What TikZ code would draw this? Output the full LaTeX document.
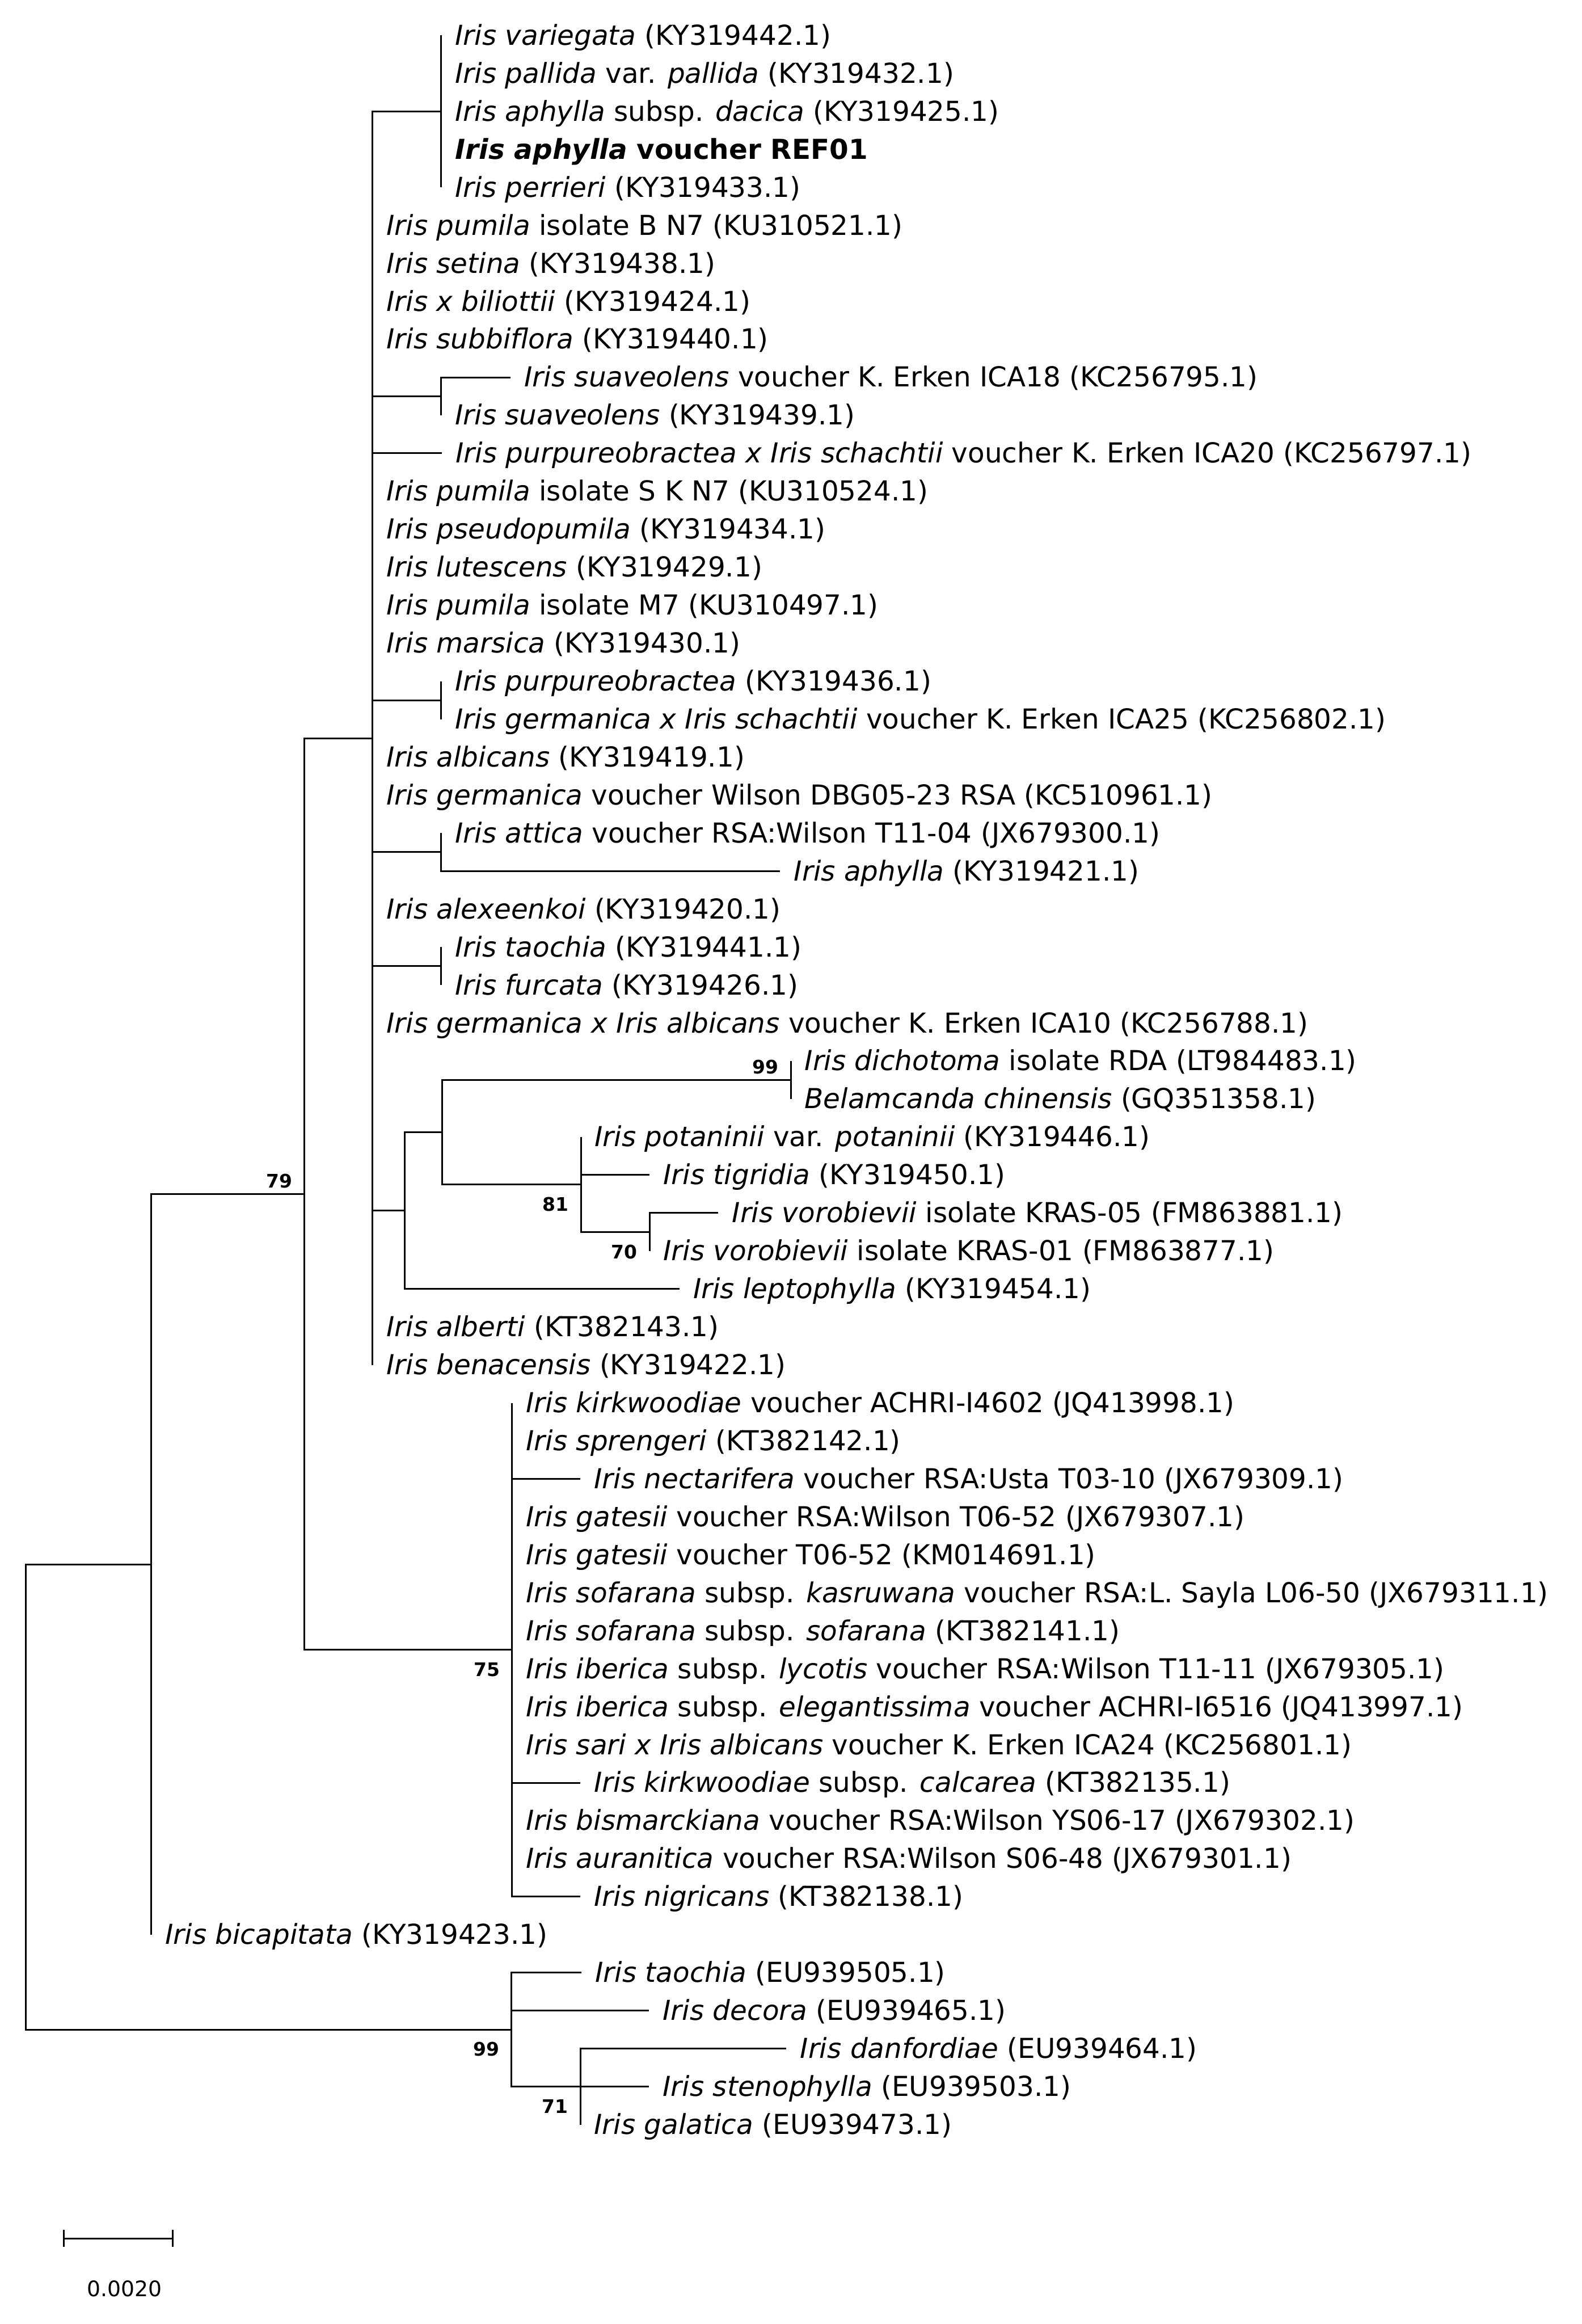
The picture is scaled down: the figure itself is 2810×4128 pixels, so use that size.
\documentclass[tikz,border=0pt]{standalone}
\usepackage{fontspec}
\setmainfont{DejaVu Sans}
\newcommand{\leaf}[3]{\coordinate (t#1) at ({#2},{63+(#1-1)*67.47});
  \node[leaf] (l#1) at (t#1) {#3};}
\begin{document}
\begin{tikzpicture}[x=0.25pt,y=-0.25pt,
  branch/.style={draw=black,line width=0.75pt},
  leaf/.style={anchor=base west,inner sep=0pt,xshift=6pt,yshift=-4.25pt,font=\fontsize{12.2}{14}\selectfont},
  bsbelow/.style={anchor=east,inner sep=0pt,xshift=-5.25pt,yshift=-8.75pt,font=\bfseries\fontsize{8.3}{9}\selectfont},
  bsabove/.style={anchor=east,inner sep=0pt,xshift=-5.25pt,yshift=5.75pt,font=\bfseries\fontsize{8.3}{9}\selectfont}]
\useasboundingbox (0,0) rectangle (2810,4128);

% internal nodes
\coordinate (root) at (46,3191.92);
\coordinate (n102) at (269,2778.67);
\coordinate (n79) at (541,2120.84);
\coordinate (n250) at (662,1311.20);
\coordinate (n75) at (910,2930.48);
\coordinate (a1) at (784,197.94);
\coordinate (a2) at (784,703.97);
\coordinate (a3) at (784,1243.73);
\coordinate (a4) at (784,1513.61);
\coordinate (a5) at (784,1716.02);
\coordinate (n273) at (719,2150.36);
\coordinate (n297) at (786,2011.20);
\coordinate (n99d) at (1405,1918.43);
\coordinate (n81) at (1032,2103.97);
\coordinate (n70) at (1154,2188.31);
\coordinate (n99b) at (909,3605.18);
\coordinate (n71) at (1031,3706.38);

% leaves
\leaf{1}{784}{\textit{Iris variegata} (KY319442.1)}
\leaf{2}{784}{\textit{Iris pallida} var. \textit{pallida} (KY319432.1)}
\leaf{3}{784}{\textit{Iris aphylla} subsp. \textit{dacica} (KY319425.1)}
\leaf{4}{784}{\textbf{\textit{Iris aphylla} voucher REF01}}
\leaf{5}{784}{\textit{Iris perrieri} (KY319433.1)}
\leaf{6}{662}{\textit{Iris pumila} isolate B N7 (KU310521.1)}
\leaf{7}{662}{\textit{Iris setina} (KY319438.1)}
\leaf{8}{662}{\textit{Iris x biliottii} (KY319424.1)}
\leaf{9}{662}{\textit{Iris subbiflora} (KY319440.1)}
\leaf{10}{907}{\textit{Iris suaveolens} voucher K. Erken ICA18 (KC256795.1)}
\leaf{11}{784}{\textit{Iris suaveolens} (KY319439.1)}
\leaf{12}{785}{\textit{Iris purpureobractea x Iris schachtii} voucher K. Erken ICA20 (KC256797.1)}
\leaf{13}{662}{\textit{Iris pumila} isolate S K N7 (KU310524.1)}
\leaf{14}{662}{\textit{Iris pseudopumila} (KY319434.1)}
\leaf{15}{662}{\textit{Iris lutescens} (KY319429.1)}
\leaf{16}{662}{\textit{Iris pumila} isolate M7 (KU310497.1)}
\leaf{17}{662}{\textit{Iris marsica} (KY319430.1)}
\leaf{18}{784}{\textit{Iris purpureobractea} (KY319436.1)}
\leaf{19}{784}{\textit{Iris germanica x Iris schachtii} voucher K. Erken ICA25 (KC256802.1)}
\leaf{20}{662}{\textit{Iris albicans} (KY319419.1)}
\leaf{21}{662}{\textit{Iris germanica} voucher Wilson DBG05-23 RSA (KC510961.1)}
\leaf{22}{784}{\textit{Iris attica} voucher RSA:Wilson T11-04 (JX679300.1)}
\leaf{23}{1386}{\textit{Iris aphylla} (KY319421.1)}
\leaf{24}{662}{\textit{Iris alexeenkoi} (KY319420.1)}
\leaf{25}{784}{\textit{Iris taochia} (KY319441.1)}
\leaf{26}{784}{\textit{Iris furcata} (KY319426.1)}
\leaf{27}{662}{\textit{Iris germanica x Iris albicans} voucher K. Erken ICA10 (KC256788.1)}
\leaf{28}{1405}{\textit{Iris dichotoma} isolate RDA (LT984483.1)}
\leaf{29}{1405}{\textit{Belamcanda chinensis} (GQ351358.1)}
\leaf{30}{1032}{\textit{Iris potaninii} var. \textit{potaninii} (KY319446.1)}
\leaf{31}{1154}{\textit{Iris tigridia} (KY319450.1)}
\leaf{32}{1276}{\textit{Iris vorobievii} isolate KRAS-05 (FM863881.1)}
\leaf{33}{1154}{\textit{Iris vorobievii} isolate KRAS-01 (FM863877.1)}
\leaf{34}{1207}{\textit{Iris leptophylla} (KY319454.1)}
\leaf{35}{662}{\textit{Iris alberti} (KT382143.1)}
\leaf{36}{662}{\textit{Iris benacensis} (KY319422.1)}
\leaf{37}{910}{\textit{Iris kirkwoodiae} voucher ACHRI-I4602 (JQ413998.1)}
\leaf{38}{910}{\textit{Iris sprengeri} (KT382142.1)}
\leaf{39}{1031}{\textit{Iris nectarifera} voucher RSA:Usta T03-10 (JX679309.1)}
\leaf{40}{910}{\textit{Iris gatesii} voucher RSA:Wilson T06-52 (JX679307.1)}
\leaf{41}{910}{\textit{Iris gatesii} voucher T06-52 (KM014691.1)}
\leaf{42}{910}{\textit{Iris sofarana} subsp. \textit{kasruwana} voucher RSA:L. Sayla L06-50 (JX679311.1)}
\leaf{43}{910}{\textit{Iris sofarana} subsp. \textit{sofarana} (KT382141.1)}
\leaf{44}{910}{\textit{Iris iberica} subsp. \textit{lycotis} voucher RSA:Wilson T11-11 (JX679305.1)}
\leaf{45}{910}{\textit{Iris iberica} subsp. \textit{elegantissima} voucher ACHRI-I6516 (JQ413997.1)}
\leaf{46}{910}{\textit{Iris sari x Iris albicans} voucher K. Erken ICA24 (KC256801.1)}
\leaf{47}{1031}{\textit{Iris kirkwoodiae} subsp. \textit{calcarea} (KT382135.1)}
\leaf{48}{910}{\textit{Iris bismarckiana} voucher RSA:Wilson YS06-17 (JX679302.1)}
\leaf{49}{910}{\textit{Iris auranitica} voucher RSA:Wilson S06-48 (JX679301.1)}
\leaf{50}{1031}{\textit{Iris nigricans} (KT382138.1)}
\leaf{51}{269}{\textit{Iris bicapitata} (KY319423.1)}
\leaf{52}{1033}{\textit{Iris taochia} (EU939505.1)}
\leaf{53}{1153}{\textit{Iris decora} (EU939465.1)}
\leaf{54}{1397}{\textit{Iris danfordiae} (EU939464.1)}
\leaf{55}{1153}{\textit{Iris stenophylla} (EU939503.1)}
\leaf{56}{1031}{\textit{Iris galatica} (EU939473.1)}

% branches
\draw[branch] (root) |- (n102);
\draw[branch] (root) |- (n99b);
\draw[branch] (n102) |- (n79);
\draw[branch] (n102) |- (t51);
\draw[branch] (n79) |- (n250);
\draw[branch] (n79) |- (n75);
\foreach \c in {a1,t6,t7,t8,t9,a2,t12,t13,t14,t15,t16,t17,a3,t20,t21,a4,t24,a5,t27,n273,t35,t36}
  \draw[branch] (n250) |- (\c);
\foreach \c in {t1,t2,t3,t4,t5} \draw[branch] (a1) |- (\c);
\foreach \c in {t10,t11} \draw[branch] (a2) |- (\c);
\foreach \c in {t18,t19} \draw[branch] (a3) |- (\c);
\foreach \c in {t22,t23} \draw[branch] (a4) |- (\c);
\foreach \c in {t25,t26} \draw[branch] (a5) |- (\c);
\draw[branch] (n273) |- (n297);
\draw[branch] (n273) |- (t34);
\draw[branch] (n297) |- (n99d);
\draw[branch] (n297) |- (n81);
\foreach \c in {t28,t29} \draw[branch] (n99d) |- (\c);
\foreach \c in {t30,t31,n70} \draw[branch] (n81) |- (\c);
\foreach \c in {t32,t33} \draw[branch] (n70) |- (\c);
\foreach \c in {t37,t38,t39,t40,t41,t42,t43,t44,t45,t46,t47,t48,t49,t50}
  \draw[branch] (n75) |- (\c);
\foreach \c in {t52,t53,n71} \draw[branch] (n99b) |- (\c);
\foreach \c in {t54,t55,t56} \draw[branch] (n71) |- (\c);

% bootstrap values
\node[bsabove] (b79) at (n79) {79};
\node[bsabove] (b99d) at (n99d) {99};
\node[bsbelow] (b81) at (n81) {81};
\node[bsbelow] (b70) at (n70) {70};
\node[bsbelow] (b75) at (n75) {75};
\node[bsbelow] (b99b) at (n99b) {99};
\node[bsbelow] (b71) at (n71) {71};

% scale bar
\coordinate (sb1) at (113,3976);
\coordinate (sb2) at (307,3976);
\draw[branch] (sb1) -- (sb2);
\draw[branch] (sb1) ++(0,-15) -- ++(0,30);
\draw[branch] (sb2) ++(0,-15) -- ++(0,30);
\node[inner sep=0pt,font=\fontsize{9.5}{11}\selectfont] (sblabel) at (221,4065) {0.0020};
\end{tikzpicture}
\end{document}
